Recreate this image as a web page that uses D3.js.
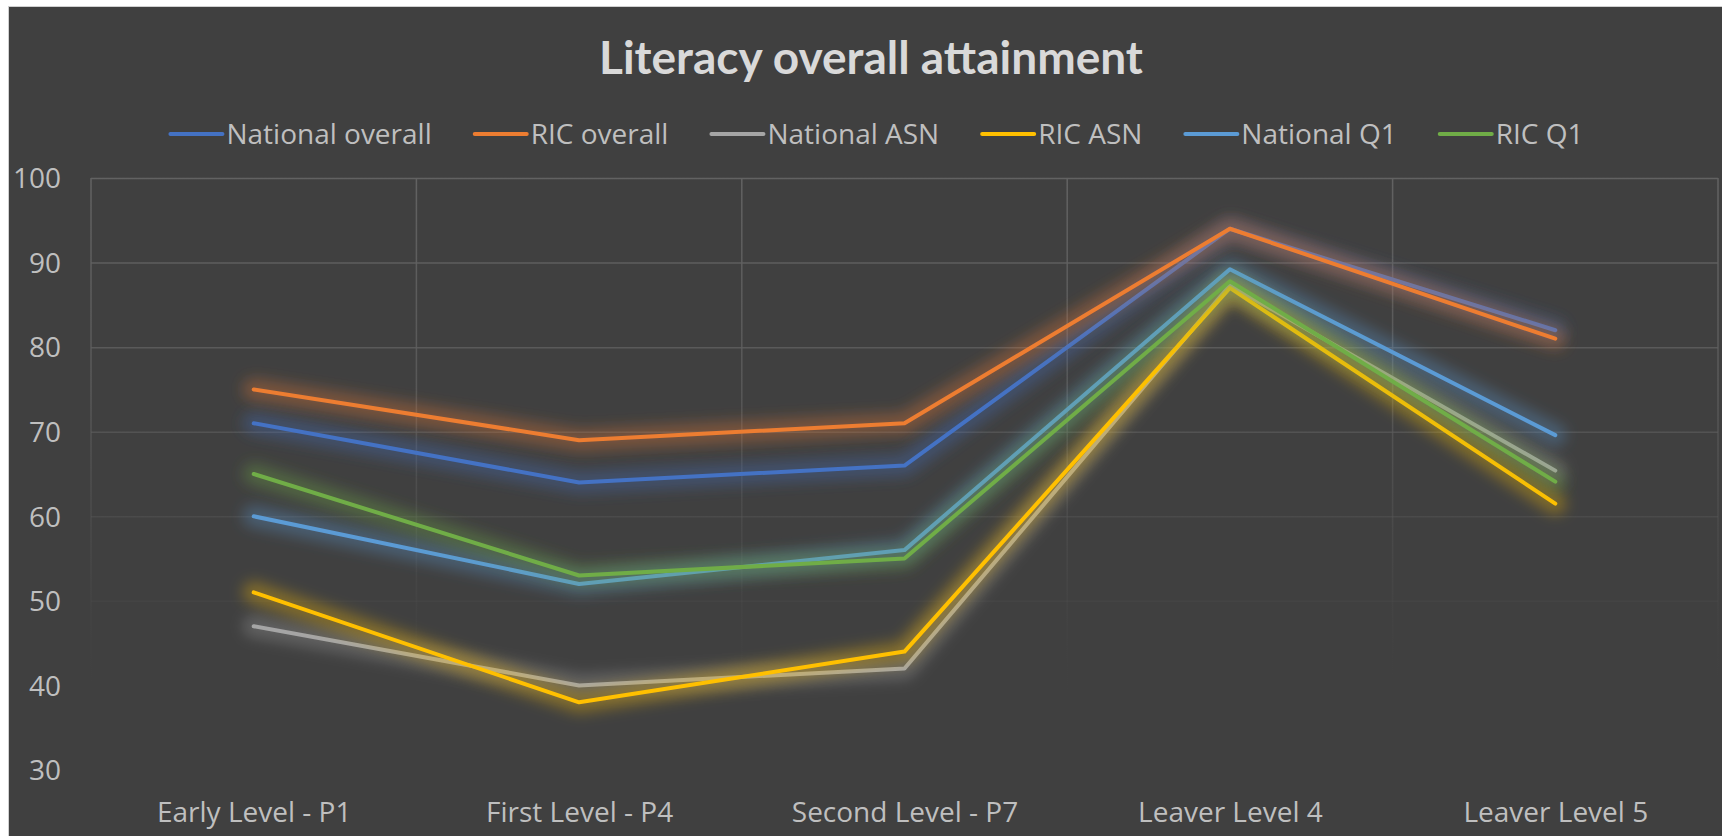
<!doctype html>
<html>
  <head>
    <meta charset="utf-8">
    <title>Literacy overall attainment</title>
    <style>
      body { margin: 0; background: #ffffff; }
      svg { display: block; }
    </style>
  </head>
  <body>
    <div id="chart"></div>

    <script src="https://d3js.org/d3.v7.min.js"></script>
    <script>
      var categories = ['Early Level - P1', 'First Level - P4', 'Second Level - P7', 'Leaver Level 4', 'Leaver Level 5'];
      var seriesNames = ['National overall', 'RIC overall', 'National ASN', 'RIC ASN', 'National Q1', 'RIC Q1'];
      var nationalOverall = [71, 64, 66, 94, 82];
      var ricOverall = [75, 69, 71, 94, 81];
      var nationalAsn = [47, 40, 42, 87.3, 65.4];
      var ricAsn = [51, 38, 44, 87, 61.5];
      var nationalQ1 = [60, 52, 56, 89.2, 69.6];
      var ricQ1 = [65, 53, 55, 87.8, 64.1];
      var yTicks = [30, 40, 50, 60, 70, 80, 90, 100];

      var seriesValues = [nationalOverall, ricOverall, nationalAsn, ricAsn, nationalQ1, ricQ1];
      var colors = ['#4472C4', '#ED7D31', '#A5A5A5', '#FFC000', '#5B9BD5', '#70AD47'];

      var width = 1722;
      var height = 836;
      var plot = { left: 91, right: 1718, top: 178, bottom: 770 };

      var svg = d3.select('#chart')
        .append('svg')
        .attr('width', width)
        .attr('height', height);

      var defs = svg.append('defs');
      defs.append('filter')
        .attr('id', 'glow')
        .attr('x', '-20%').attr('y', '-50%')
        .attr('width', '140%').attr('height', '200%')
        .append('feGaussianBlur')
        .attr('stdDeviation', 7);

      // gridlines fade out towards the bottom of the plot
      var fade = defs.append('linearGradient')
        .attr('id', 'gridFade')
        .attr('gradientUnits', 'userSpaceOnUse')
        .attr('x1', 0).attr('y1', plot.top)
        .attr('x2', 0).attr('y2', 705);
      fade.append('stop').attr('offset', 0).attr('stop-color', '#626262').attr('stop-opacity', 1);
      fade.append('stop').attr('offset', 0.4).attr('stop-color', '#5e5e5e').attr('stop-opacity', 0.8);
      fade.append('stop').attr('offset', 0.75).attr('stop-color', '#555555').attr('stop-opacity', 0.3);
      fade.append('stop').attr('offset', 1).attr('stop-color', '#404040').attr('stop-opacity', 0);

      // background
      svg.append('rect')
        .attr('x', 8.5).attr('y', 6.5)
        .attr('width', width).attr('height', height)
        .attr('fill', '#404040')
        .attr('stroke', '#d0d0d0')
        .attr('stroke-width', 1);

      var x = d3.scalePoint()
        .domain(categories)
        .range([plot.left, plot.right])
        .padding(0.5);

      var xBand = d3.scaleBand()
        .domain(categories)
        .range([plot.left, plot.right]);

      var y = d3.scaleLinear()
        .domain([30, 100])
        .range([plot.bottom, plot.top]);

      var grid = svg.append('g').attr('class', 'grid');
      grid.selectAll('line.h')
        .data(yTicks)
        .enter()
        .append('line')
        .attr('x1', plot.left).attr('x2', plot.right)
        .attr('y1', function(d) { return y(d) + 0.5; })
        .attr('y2', function(d) { return y(d) + 0.5; })
        .attr('stroke', 'url(#gridFade)')
        .attr('stroke-width', 1.5);

      var vLines = categories.map(function(c) { return xBand(c); }).concat([plot.right]);
      grid.selectAll('rect.v')
        .data(vLines)
        .enter()
        .append('rect')
        .attr('x', function(d) { return d - 0.75; })
        .attr('y', plot.top)
        .attr('width', 1.5)
        .attr('height', plot.bottom - plot.top)
        .attr('fill', 'url(#gridFade)');

      // axes: labels only
      var yAxis = svg.append('g')
        .attr('transform', 'translate(' + (plot.left - 30) + ',0)')
        .call(d3.axisLeft(y).tickValues(yTicks).tickSize(0).tickPadding(0));
      var xAxis = svg.append('g')
        .attr('transform', 'translate(0,' + 822 + ')')
        .call(d3.axisBottom(x).tickSize(0).tickPadding(0));

      [yAxis, xAxis].forEach(function(g) {
        g.select('.domain').remove();
        g.selectAll('text')
          .attr('fill', '#BFBFBF')
          .style('font-family', '"Open Sans", sans-serif')
          .style('font-size', '28px');
      });
      yAxis.selectAll('text').attr('dy', '0.35em');
      xAxis.selectAll('text').attr('dy', 0);

      // series lines with glow
      var line = d3.line()
        .x(function(d, i) { return x(categories[i]); })
        .y(function(d) { return y(d); });

      seriesValues.forEach(function(vals, i) {
        var g = svg.append('g').attr('class', 'series');
        g.append('path')
          .attr('d', line(vals))
          .attr('fill', 'none')
          .attr('stroke', colors[i])
          .attr('stroke-width', 22)
          .attr('stroke-opacity', 0.33)
          .attr('stroke-linejoin', 'round')
          .attr('stroke-linecap', 'round')
          .attr('filter', 'url(#glow)');
        g.append('path')
          .attr('d', line(vals))
          .attr('fill', 'none')
          .attr('stroke', colors[i])
          .attr('stroke-width', 4)
          .attr('stroke-linejoin', 'round')
          .attr('stroke-linecap', 'round');
      });

      // title
      svg.append('text')
        .attr('x', 871)
        .attr('y', 74)
        .attr('text-anchor', 'middle')
        .attr('fill', '#D9D9D9')
        .style('font-family', 'Lato, sans-serif')
        .style('font-weight', 'bold')
        .style('font-size', '46px')
        .text('Literacy overall attainment');

      // legend
      var legend = svg.append('g');
      var items = legend.selectAll('g')
        .data(seriesNames)
        .enter()
        .append('g');
      items.append('line')
        .attr('x1', 2).attr('x2', 54)
        .attr('y1', 0).attr('y2', 0)
        .attr('stroke', function(d, i) { return colors[i]; })
        .attr('stroke-width', 4)
        .attr('stroke-linecap', 'round');
      items.append('text')
        .attr('x', 58)
        .attr('y', 0)
        .attr('dy', '0.36em')
        .attr('fill', '#BFBFBF')
        .style('font-family', '"Open Sans", sans-serif')
        .style('font-size', '28px')
        .text(function(d) { return d; });

      var offset = 0;
      items.each(function() {
        var w = this.getBBox().width;
        d3.select(this).attr('transform', 'translate(' + offset + ',0)');
        offset += w + 43;
      });
      var total = offset - 43;
      legend.attr('transform', 'translate(' + (875 - total / 2) + ',134)');
    </script>
  </body>
</html>
